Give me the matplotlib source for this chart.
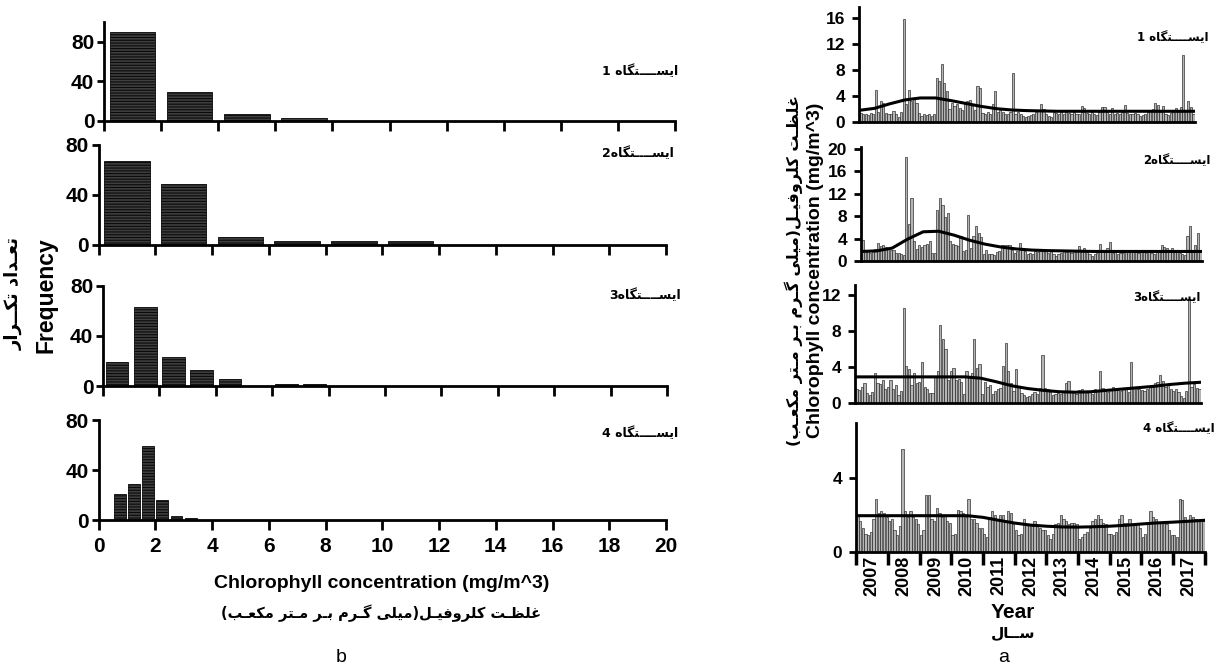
import matplotlib
matplotlib.use('Agg')
import matplotlib.pyplot as plt
from matplotlib import font_manager as fm
import numpy as np

W, H = 1232, 672
plt.rcParams['hatch.linewidth'] = 0.8

# ---------------- data: histograms (panel b) ----------------
h1_centers = [1, 3, 5, 7]
h1_counts = [90, 29, 7, 3]
h2_centers = [1, 3, 5, 7, 9, 11]
h2_counts = [67, 49, 6, 3, 3, 3]
h3_centers = [0.5, 1.5, 2.5, 3.5, 4.5, 5.5, 6.5, 7.5]
h3_counts = [19, 63, 23, 13, 6, 0, 1.5, 1.5]
h4_centers = [0.75, 1.25, 1.75, 2.25, 2.75, 3.25]
h4_counts = [21, 29, 59, 16, 3, 2]

# ---------------- data: monthly series (panel a) ----------------
years = [2007, 2008, 2009, 2010, 2011, 2012, 2013, 2014, 2015, 2016, 2017]
st1 = [1.4, 1.2, 1.3, 1.1, 1.4, 1.2, 5.0, 1.5, 3.2, 3.0, 1.4, 1.3,
       1.2, 1.7, 1.3, 0.8, 1.6, 15.8, 2.7, 5.0, 3.2, 3.5, 3.0, 1.4,
       1.0, 1.2, 1.1, 1.3, 0.9, 1.2, 6.8, 6.3, 8.9, 6.0, 4.8, 2.0,
       3.0, 2.5, 2.8, 2.2, 1.8, 2.7, 3.2, 3.4, 2.5, 1.9, 5.5, 5.2,
       1.4, 1.2, 1.5, 1.3, 2.8, 4.7, 1.6, 1.8, 1.5, 1.3, 1.2, 1.6,
       7.5, 1.3, 1.5, 1.2, 0.9, 0.8, 1.0, 1.1, 1.3, 1.5, 1.8, 2.7,
       2.0, 1.2, 0.9, 0.8, 1.5, 1.4, 1.2, 1.5, 1.3, 1.6, 1.4, 1.2,
       1.5, 1.3, 1.2, 2.5, 2.1, 1.4, 1.3, 1.5, 1.2, 1.1, 1.6, 2.3,
       2.3, 1.5, 1.3, 2.2, 1.2, 1.4, 1.3, 1.5, 2.6, 1.4, 1.3, 1.2,
       1.4, 1.2, 1.0, 1.1, 1.3, 1.5, 1.7, 2.0, 2.9, 2.6, 1.5, 2.4,
       1.3, 1.1, 1.4, 1.5, 2.2, 1.6, 2.3, 10.3, 1.9, 3.3, 2.3, 1.2]
st2 = [3.8, 1.8, 1.7, 1.5, 2.0, 2.2, 3.2, 2.6, 2.8, 2.5, 2.3, 2.0,
       2.0, 1.5, 1.4, 1.2, 1.1, 18.5, 6.5, 11.2, 3.5, 2.2, 2.8, 2.5,
       2.9, 3.0, 3.5, 1.5, 1.4, 9.0, 11.3, 10.0, 7.8, 8.5, 3.5, 3.0,
       2.8, 2.6, 4.5, 1.8, 2.0, 8.2, 2.3, 4.4, 6.2, 5.0, 4.2, 1.3,
       2.0, 1.2, 1.2, 1.1, 1.6, 1.8, 2.8, 2.8, 2.9, 2.9, 2.0, 1.5,
       1.8, 3.2, 1.9, 1.7, 1.3, 1.5, 1.2, 1.8, 1.6, 2.0, 1.9, 1.7,
       1.5, 1.8, 1.2, 0.9, 1.3, 1.5, 1.7, 1.6, 1.8, 1.4, 2.0, 1.7,
       2.6, 1.9, 2.4, 1.6, 1.2, 0.9, 1.3, 1.5, 3.1, 1.7, 1.9, 2.3,
       3.4, 1.5, 1.6, 1.3, 1.5, 1.4, 1.7, 1.6, 1.8, 2.0, 1.7, 1.5,
       1.8, 1.6, 1.4, 1.7, 1.5, 1.3, 1.6, 1.8, 2.8, 2.5, 2.4, 1.9,
       2.3, 1.7, 1.6, 1.4, 1.3, 1.0, 4.5, 6.3, 2.0, 2.8, 4.9, 1.8]
st3 = [1.5, 1.4, 1.8, 2.2, 1.1, 0.9, 1.2, 3.3, 2.2, 2.1, 2.6, 1.5,
       1.8, 2.6, 1.5, 2.0, 0.9, 1.3, 10.5, 4.1, 3.8, 2.0, 3.3, 2.2,
       2.3, 4.6, 1.8, 1.5, 1.1, 1.1, 2.9, 3.5, 8.7, 7.1, 6.0, 2.5,
       3.6, 3.9, 2.5, 2.7, 2.3, 1.0, 3.6, 3.0, 3.3, 7.1, 3.9, 4.3,
       1.0, 2.3, 1.8, 2.0, 1.0, 1.3, 1.5, 1.7, 4.1, 6.7, 3.6, 2.2,
       1.3, 3.8, 1.8, 1.1, 0.9, 0.7, 0.8, 1.0, 1.2, 1.0, 1.7, 5.3,
       1.7, 1.5, 1.2, 0.9, 1.0, 1.1, 1.0, 1.2, 2.2, 2.4, 1.3, 1.2,
       1.0, 1.4, 1.5, 1.2, 1.1, 1.3, 1.0, 1.6, 1.4, 3.5, 1.7, 1.3,
       1.2, 1.5, 1.8, 1.6, 1.4, 1.3, 1.7, 1.5, 1.2, 4.5, 1.7, 1.6,
       1.5, 1.4, 1.3, 1.6, 1.8, 2.0, 2.2, 2.3, 3.1, 2.4, 1.8, 2.0,
       1.6, 1.3, 1.5, 1.2, 0.8, 0.6, 1.3, 11.5, 1.8, 2.1, 1.7, 1.6]
st4 = [2.0, 1.7, 1.3, 1.0, 0.9, 1.1, 1.8, 2.9, 2.1, 2.2, 2.1, 1.9,
       1.7, 1.8, 1.2, 0.9, 1.4, 5.6, 2.2, 1.9, 2.2, 1.9, 1.8, 1.5,
       0.9, 1.2, 3.1, 3.1, 1.8, 1.7, 2.4, 2.1, 1.9, 2.0, 1.7, 1.6,
       0.9, 1.0, 2.3, 2.2, 2.1, 1.9, 2.9, 1.8, 1.8, 1.6, 1.3, 1.3,
       1.0, 0.8, 1.9, 2.2, 2.0, 1.8, 2.0, 2.0, 1.7, 2.2, 2.1, 1.5,
       1.2, 0.9, 1.0, 1.8, 1.5, 1.5, 1.4, 1.7, 1.4, 1.3, 1.2, 1.2,
       0.9, 0.7, 1.0, 1.5, 1.6, 2.0, 1.8, 1.7, 1.5, 1.6, 1.6, 1.5,
       0.7, 0.8, 1.0, 1.1, 1.3, 1.7, 1.8, 2.0, 1.8, 1.6, 1.5, 1.0,
       1.0, 0.9, 1.1, 1.8, 2.0, 1.6, 1.6, 1.8, 1.5, 1.5, 1.5, 1.3,
       0.8, 1.0, 1.6, 2.2, 1.9, 1.8, 1.6, 1.6, 1.6, 1.5, 1.2, 0.9,
       0.9, 0.8, 2.9, 2.8, 1.9, 1.7, 2.0, 1.9, 1.8, 1.7, 1.7, 1.7]
# smooth trend read every half year (months 0, 6, ..., 132)
tr1 = [1.8, 2.1, 2.8, 3.4, 3.7, 3.7, 3.3, 2.85, 2.4, 2.05, 1.85, 1.75, 1.7,
       1.65, 1.65, 1.65, 1.65, 1.65, 1.65, 1.65, 1.65, 1.65, 1.65]
tr2 = [1.7, 1.8, 2.3, 3.9, 5.2, 5.3, 4.6, 3.7, 3.0, 2.5, 2.15, 1.95, 1.85,
       1.8, 1.75, 1.7, 1.7, 1.7, 1.7, 1.7, 1.7, 1.7, 1.7]
tr3 = [2.9, 2.9, 2.9, 2.9, 2.9, 2.9, 2.9, 2.9, 2.75, 2.35, 1.9, 1.6, 1.4,
       1.25, 1.2, 1.25, 1.4, 1.55, 1.7, 1.85, 2.05, 2.2, 2.3]
tr4 = [1.97, 1.97, 1.97, 1.97, 1.97, 1.97, 1.97, 1.97, 1.88, 1.72, 1.57, 1.46,
       1.4, 1.36, 1.35, 1.37, 1.4, 1.45, 1.52, 1.58, 1.62, 1.67, 1.72]

# ---------------- fonts ----------------
names = {f.name for f in fm.fontManager.ttflist}
NARROW = 'Liberation Sans Narrow' if 'Liberation Sans Narrow' in names else 'Liberation Sans'
ARIAL = 'Liberation Sans'
ARFONT = 'DejaVu Sans'

# ---------------- simple Arabic shaping (presentation forms, visual order) ----------------
AR = {
    '\u0627': ('\uFE8D', '\uFE8E', None, None),
    '\u0628': ('\uFE8F', '\uFE90', '\uFE91', '\uFE92'),
    '\u062A': ('\uFE95', '\uFE96', '\uFE97', '\uFE98'),
    '\u062F': ('\uFEA9', '\uFEAA', None, None),
    '\u0631': ('\uFEAD', '\uFEAE', None, None),
    '\u0633': ('\uFEB1', '\uFEB2', '\uFEB3', '\uFEB4'),
    '\u0638': ('\uFEC5', '\uFEC6', '\uFEC7', '\uFEC8'),
    '\u0639': ('\uFEC9', '\uFECA', '\uFECB', '\uFECC'),
    '\u063A': ('\uFECD', '\uFECE', '\uFECF', '\uFED0'),
    '\u0641': ('\uFED1', '\uFED2', '\uFED3', '\uFED4'),
    '\u0644': ('\uFEDD', '\uFEDE', '\uFEDF', '\uFEE0'),
    '\u0645': ('\uFEE1', '\uFEE2', '\uFEE3', '\uFEE4'),
    '\u0647': ('\uFEE9', '\uFEEA', '\uFEEB', '\uFEEC'),
    '\u0648': ('\uFEED', '\uFEEE', None, None),
    '\u06A9': ('\uFB8E', '\uFB8F', '\uFB90', '\uFB91'),
    '\u06AF': ('\uFB92', '\uFB93', '\uFB94', '\uFB95'),
    '\u06CC': ('\uFBFC', '\uFBFD', '\uFBFE', '\uFBFF'),
}
TAT = '\u0640'


def _isar(c):
    return c in AR or c == TAT


def _dual(c):
    return c == TAT or (c in AR and AR[c][2] is not None)


def rtl(s):
    out = []
    for i, c in enumerate(s):
        if c not in AR:
            out.append(c)
            continue
        prev = s[i - 1] if i > 0 else ''
        nxt = s[i + 1] if i + 1 < len(s) else ''
        jp = prev != '' and _dual(prev)
        jn = _dual(c) and nxt != '' and _isar(nxt)
        iso, fin, ini, med = AR[c]
        out.append(med if (jp and jn) else fin if jp else ini if jn else iso)
    return ''.join(reversed(out)).translate(str.maketrans('()', ')('))


K4 = TAT * 4
station_txt = ['ایس' + K4 + 'تگاه 1', 'ایس' + K4 + 'تگاه2',
               'ایس' + K4 + 'تگاه3', 'ایس' + K4 + 'تگاه 4']
chl_ar = 'غلظ' + TAT + 'ت کلروفی' + TAT + 'ل(میلی گ' + TAT + 'رم ب' + TAT + 'ر م' + TAT + 'تر مکع' + TAT + 'ب)'
freq_ar = 'تع' + TAT + 'داد تک' + TAT + TAT + 'رار'
year_ar = 'س' + TAT + TAT + 'ال'

fig = plt.figure(figsize=(W / 100, H / 100), dpi=100)


def pax(l, t, r, b):
    return fig.add_axes([l / W, 1 - b / H, (r - l) / W, (b - t) / H])


def ftext(x, y, s, **kw):
    fig.text(x / W, 1 - y / H, s, **kw)


# ---------------- left: histograms ----------------
hist_sets = [(h1_centers, h1_counts, 1.6, 100), (h2_centers, h2_counts, 1.6, 80),
             (h3_centers, h3_counts, 0.8, 80), (h4_centers, h4_counts, 0.42, 80)]
hist_boxes = [(104, 22, 675, 121), (98.5, 145, 666, 245), (103, 286, 667, 386), (98.5, 420, 666, 520)]
hist_lbl = [(602, 71), (602, 153), (609, 295), (602, 433)]
for k, ((cen, cnt, wd, ytop), box) in enumerate(zip(hist_sets, hist_boxes)):
    ax = pax(*box)
    ax.bar(cen, cnt, width=wd, color='#3e3e3e', edgecolor='#0a0a0a', linewidth=0.6,
           hatch='------')
    ax.set_xlim(0, 20)
    ax.set_ylim(0, ytop)
    ax.set_yticks([0, 40, 80])
    ax.set_xticks(np.arange(0, 21, 2))
    for sp in ['top', 'right']:
        ax.spines[sp].set_visible(False)
    for sp in ['left', 'bottom']:
        ax.spines[sp].set_linewidth(2)
    ax.tick_params(axis='y', direction='out', length=5, width=2, pad=2)
    ax.tick_params(axis='x', direction='out', length=7, width=2, pad=5)
    for lab in ax.get_yticklabels():
        lab.set_fontfamily(NARROW)
        lab.set_fontweight('bold')
        lab.set_fontsize(15)
    if k < 3:
        ax.set_xticklabels([])
    else:
        for lab in ax.get_xticklabels():
            lab.set_fontfamily(NARROW)
            lab.set_fontweight('bold')
            lab.set_fontsize(15)
    lx, ly = hist_lbl[k]
    ftext(lx, ly, rtl(station_txt[k]), fontfamily=ARFONT, fontweight='bold',
          fontsize=9, ha='left', va='center')

ftext(382, 583, 'Chlorophyll concentration (mg/m^3)', fontfamily=NARROW, fontweight='bold',
      fontsize=14, ha='center', va='center')
ftext(381, 613, rtl(chl_ar), fontfamily=ARFONT, fontweight='bold', fontsize=10.5,
      ha='center', va='center')
ftext(341, 658, 'b', fontfamily=ARIAL, fontsize=14, ha='center', va='center')
ftext(46, 295, 'Frequency', fontfamily=ARIAL, fontweight='bold', fontsize=16.5,
      rotation=90, ha='center', va='center')
ftext(14, 293, rtl(freq_ar), fontfamily=ARFONT, fontweight='bold', fontsize=13,
      rotation=90, ha='center', va='center')

# ---------------- right: monthly series ----------------
series = [st1, st2, st3, st4]
trends = [tr1, tr2, tr3, tr4]
ts_boxes = [(859, 7, 1195, 122), (861, 147, 1202, 261), (855, 285, 1201, 403), (856, 423, 1205, 552)]
ts_ylim = [17.7, 20.3, 13.1, 7.0]
ts_ticks = [[0, 4, 8, 12, 16], [0, 4, 8, 12, 16, 20], [0, 4, 8, 12], [0, 4]]
ts_lbl = [(1137, 38), (1143, 161), (1133, 298), (1143, 429)]
months = np.arange(len(st1))
half = np.arange(len(tr1)) * 6 - 0.5
for k in range(4):
    ax = pax(*ts_boxes[k])
    ax.bar(months, series[k], width=0.85, color='#b4b4b4', edgecolor='#202020', linewidth=0.45)
    ax.plot(half, trends[k], color='black', linewidth=2.2)
    ax.set_xlim(-0.6, len(st1) - 0.4)
    ax.set_ylim(0, ts_ylim[k])
    ax.set_yticks(ts_ticks[k])
    for sp in ['top', 'right']:
        ax.spines[sp].set_visible(False)
    ax.spines['left'].set_linewidth(2)
    ax.spines['bottom'].set_linewidth(2)
    ax.tick_params(axis='y', direction='out', length=5, width=2, pad=5)
    for lab in ax.get_yticklabels():
        lab.set_fontfamily(ARIAL)
        lab.set_fontweight('bold')
        lab.set_fontsize(12.5)
    if k < 3:
        ax.set_xticks([])
    else:
        ax.set_xticks(np.arange(len(years) + 1) * 12 - 0.5)
        ax.set_xticklabels([])
        ax.set_xticks(np.arange(len(years)) * 12 + 5.5, minor=True)
        ax.set_xticklabels([str(y) for y in years], minor=True, rotation=90,
                           fontfamily=ARIAL, fontweight='bold', fontsize=13)
        ax.tick_params(axis='x', which='major', direction='out', length=9, width=2.5)
        ax.tick_params(axis='x', which='minor', length=0, pad=3)
    lx, ly = ts_lbl[k]
    ftext(lx, ly, rtl(station_txt[k]), fontfamily=ARFONT, fontweight='bold',
          fontsize=8.5, ha='left', va='center')

ftext(815, 270, 'Chlorophyll concentration (mg/m^3)', fontfamily=ARIAL, fontweight='bold',
      fontsize=14, rotation=90, ha='center', va='center')
ftext(794, 270, rtl(chl_ar), fontfamily=ARFONT, fontweight='bold', fontsize=11.5,
      rotation=90, ha='center', va='center')
ftext(1013, 612, 'Year', fontfamily=ARIAL, fontweight='bold', fontsize=15,
      ha='center', va='center')
ftext(1013, 633, rtl(year_ar), fontfamily=ARFONT, fontweight='bold', fontsize=11,
      ha='center', va='center')
ftext(1004, 658, 'a', fontfamily=ARIAL, fontsize=14, ha='center', va='center')

fig.savefig('out.png', dpi=100)
